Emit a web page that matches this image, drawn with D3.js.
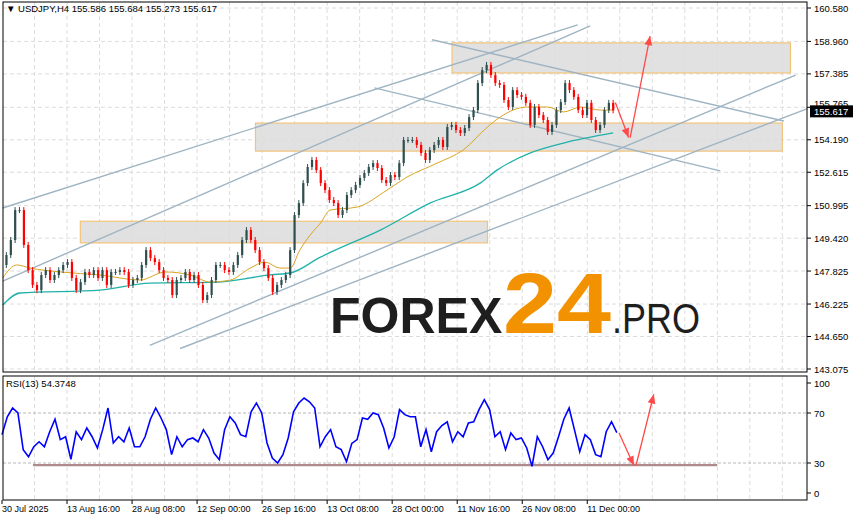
<!DOCTYPE html>
<html><head><meta charset="utf-8">
<script src="https://cdn.jsdelivr.net/npm/d3@7"></script>
<style>body{margin:0;background:#fff}svg{display:block}text{font-family:"Liberation Sans",Arial,sans-serif}</style>
</head><body><svg id="c" width="855" height="521"></svg>
<script>
// ---- data ----
const closes=[148.12,148.60,149.33,150.78,150.78,149.09,147.87,147.15,146.90,147.63,147.87,147.39,147.63,147.87,148.12,148.26,147.49,146.90,147.29,147.78,147.63,147.87,147.49,147.87,147.15,147.78,147.78,147.87,147.78,147.15,147.39,147.49,148.12,148.84,148.45,148.26,147.87,147.49,147.39,146.66,147.39,147.49,147.78,147.39,147.63,147.15,146.42,146.66,147.39,148.12,148.12,147.87,147.78,148.12,148.60,149.33,149.81,149.33,148.84,148.26,147.97,147.49,146.81,147.15,147.39,147.63,148.84,150.54,151.12,152.09,152.87,153.21,152.72,152.09,151.75,151.27,151.12,150.54,150.78,151.51,151.75,152.00,152.34,152.58,152.87,153.06,152.82,152.24,152.09,152.48,152.38,153.06,154.18,154.18,154.18,153.94,153.55,153.21,153.69,153.94,154.18,153.84,154.81,154.91,154.66,154.52,154.76,155.29,155.63,156.94,157.57,157.82,157.33,156.94,156.85,156.12,155.78,156.60,156.36,156.27,155.98,154.91,155.78,155.39,155.15,154.57,154.91,155.63,156.02,156.94,156.60,156.27,155.63,155.39,155.98,155.15,154.66,154.91,155.63,155.98,155.617];
const maFastBar=[1,20,38,79,133,187,221,255,282,309,336,356,376,390,403,417,431,444,481,521,548,589,624,657,674,711,738,760,783,810,827];
const maFast=[147.49,148.12,147.97,147.78,147.63,147.39,147.78,147.63,147.29,147.39,147.97,148.26,147.97,147.97,148.84,149.57,150.15,150.78,150.93,151.75,152.38,153.06,153.69,154.81,155.29,155.78,155.78,155.54,155.78,155.63,155.63];
const maSlowBar=[1,24,133,200,291,336,359,390,431,451,512,579,647,670,715,760,827];
const maSlow=[146.18,146.76,146.90,147.24,147.29,147.49,147.63,147.73,148.50,148.84,149.81,151.12,152.09,152.72,153.55,154.03,154.52];
const rsi=[52.7,67,74,70,40.7,35,43,47,43,55,65,48.7,51,33,55,48.7,58,51,42,56.7,74,46,51,47,58,43,43,51,65,74,66,56.7,36.7,51,43,48.7,50,47,56.7,50,38,32.7,56.7,67,62,52.7,51,71,78,70,46,34,30,36.7,50,71,78,82,79,74,43,51,56.7,43,40.7,31,45.7,48.7,66,65,70,68.7,58,42,51,72.7,68.7,67,67,43,56.7,39,55,60,63,47,55,51,62,63,72.7,80.7,72.7,51,55,40.7,54,48.7,50,42,27.3,51,43,32.7,38,51,65,74,56.7,39,52.7,48.7,36.7,35,55,63,54.37];
const priceTicks=[160.580,158.960,157.385,155.765,154.190,152.615,150.995,149.420,147.825,146.225,144.650,143.075];
const timeLabels=["30 Jul 2025","13 Aug 16:00","28 Aug 08:00","12 Sep 00:00","26 Sep 16:00","13 Oct 08:00","28 Oct 00:00","11 Nov 16:00","26 Nov 08:00","11 Dec 00:00"];
const zones=[[609,1067,158.89,157.43],[343,1056,155.00,153.64],[106,657,150.24,149.19]];
const trends=[[1,150.88,779,159.76],[1,147.34,796,159.71],[200,144.22,1074,157.33],[241,144.07,1090,155.7],[582,159.04,1058,155.1],[504,156.71,972,152.68]];
const lastPrice=155.617;
// ---- layout ----
const svg=d3.select("#c");
const L=3,R=807,T=2,B=372,RT=376,RB=500;
const x=d3.scaleLinear().domain([0,1088]).range([2,806]);
const y=d3.scaleLinear().domain([143.075,160.580]).range([369,8]);
const yr=d3.scaleLinear().domain([30,70]).range([463,413]);
const barOf=i=>i*827/(closes.length-1);
const grid="#dcdcdc";
const g=svg.append("g");
for(let b=44;b<1088;b+=44){[[T,B],[RT,RB]].forEach(([a,c])=>g.append("line").attr("x1",x(b)).attr("x2",x(b)).attr("y1",a).attr("y2",c).attr("stroke",grid).attr("stroke-dasharray","4,3"));}
priceTicks.forEach(p=>g.append("line").attr("x1",L).attr("x2",R).attr("y1",y(p)).attr("y2",y(p)).attr("stroke",grid).attr("stroke-dasharray","4,3"));
[30,70].forEach(v=>g.append("line").attr("x1",L).attr("x2",R).attr("y1",yr(v)).attr("y2",yr(v)).attr("stroke","#b8b8b8").attr("stroke-dasharray","3,2"));
zones.forEach(z=>svg.append("rect").attr("x",x(z[0])).attr("y",y(z[2])).attr("width",x(z[1])-x(z[0])).attr("height",y(z[3])-y(z[2])).attr("fill","#dcdcdc").attr("fill-opacity",0.85).attr("stroke","#f2c47a").attr("stroke-width",1.2));
trends.forEach(t=>svg.append("line").attr("x1",x(t[0])).attr("y1",y(t[1])).attr("x2",x(t[2])).attr("y2",y(t[3])).attr("stroke","#9fb4c2").attr("stroke-width",1.4));
// watermark
const wm=svg.append("text").attr("y",333).attr("font-weight","bold");
wm.append("tspan").attr("x",330).attr("font-size",50).attr("fill","#1e1e1e").text("FOREX");
wm.append("tspan").attr("x",503).attr("font-size",86).attr("fill","#f39200").attr("textLength",108).attr("lengthAdjust","spacingAndGlyphs").text("24");
wm.append("tspan").attr("x",612).attr("font-size",42).attr("font-weight","normal").attr("fill","#1e1e1e").attr("textLength",88).attr("lengthAdjust","spacingAndGlyphs").text(".PRO");
// MAs
const line=d3.line().x(d=>x(d[0])).y(d=>y(d[1])).curve(d3.curveMonotoneX);
svg.append("path").attr("d",line(maSlowBar.map((b,i)=>[b,maSlow[i]]))).attr("fill","none").attr("stroke","#20b2aa").attr("stroke-width",1.3);
svg.append("path").attr("d",line(maFastBar.map((b,i)=>[b,maFast[i]]))).attr("fill","none").attr("stroke","#daa520").attr("stroke-width",1);
// candles
closes.forEach((c,i)=>{if(i===0)return;const o=closes[i-1];const up=c>=o;const xx=x(barOf(i));
 const hi=Math.max(o,c),lo=Math.min(o,c);const col=up?"#2f4f4f":"#ff0000";
 svg.append("line").attr("x1",xx).attr("x2",xx).attr("y1",y(hi)-3).attr("y2",y(lo)+3).attr("stroke",col).attr("stroke-width",1);
 svg.append("rect").attr("x",xx-1).attr("width",2.2).attr("y",y(hi)).attr("height",Math.max(1,y(lo)-y(hi))).attr("fill",col);});
function arrow(x1,y1,x2,y2){svg.append("line").attr("x1",x1).attr("y1",y1).attr("x2",x2).attr("y2",y2).attr("stroke","#ff4a4a").attr("stroke-width",1.3);
 const a=Math.atan2(y2-y1,x2-x1),s=10,w=0.4;
 svg.append("path").attr("d",`M${x2},${y2}L${x2-s*Math.cos(a-w)},${y2-s*Math.sin(a-w)}L${x2-s*Math.cos(a+w)},${y2-s*Math.sin(a+w)}Z`).attr("fill","#ff4a4a");}
arrow(x(830),y(156.0),x(848),y(154.3));arrow(x(850),y(154.3),x(877),y(159.22));
// RSI
svg.append("line").attr("x1",x(42)).attr("x2",x(968)).attr("y1",yr(28.3)).attr("y2",yr(28.3)).attr("stroke","#b08a8a").attr("stroke-width",2.2);
svg.append("path").attr("d",d3.line().x((d,i)=>x(i*832/(rsi.length-1))).y(d=>yr(d))(rsi)).attr("fill","none").attr("stroke","#0000ff").attr("stroke-width",1.6);
arrow(x(835),yr(54),x(855),yr(28));arrow(x(858),yr(28),x(882),yr(85));
[[T,B],[RT,RB]].forEach(([a,c])=>svg.append("rect").attr("x",L).attr("y",a).attr("width",R-L).attr("height",c-a).attr("fill","none").attr("stroke","#000"));
const ax=svg.append("g").attr("font-size",9.5).attr("fill","#000");
priceTicks.forEach(p=>{ax.append("line").attr("x1",R).attr("x2",R+4).attr("y1",y(p)).attr("y2",y(p)).attr("stroke","#000");
 ax.append("text").attr("x",814).attr("y",y(p)+(p===155.765?0:3.5)).text(p.toFixed(3));});
svg.append("rect").attr("x",810).attr("y",y(lastPrice)-5).attr("width",43).attr("height",12).attr("fill","#000");
svg.append("text").attr("x",814).attr("y",y(lastPrice)+4.5).attr("font-size",9.5).attr("fill","#fff").text(lastPrice.toFixed(3));
[[100,383],[70,yr(70)],[30,yr(30)],[0,493]].forEach(([v,yy])=>{ax.append("line").attr("x1",R).attr("x2",R+4).attr("y1",yy).attr("y2",yy).attr("stroke","#000");ax.append("text").attr("x",814).attr("y",yy+3.5).text(v);});
timeLabels.forEach((t,i)=>{const xx=x(i*88);ax.append("line").attr("x1",xx).attr("x2",xx).attr("y1",RB).attr("y2",RB+4).attr("stroke","#000");
 ax.append("text").attr("x",xx).attr("y",512).attr("font-size",9).text(t);});
svg.append("text").attr("x",6).attr("y",12).attr("font-size",9.5).text("▼ USDJPY,H4  155.586 155.684 155.273 155.617");
svg.append("text").attr("x",6).attr("y",387).attr("font-size",9.5).text("RSI(13) 54.3748");
</script></body></html>
